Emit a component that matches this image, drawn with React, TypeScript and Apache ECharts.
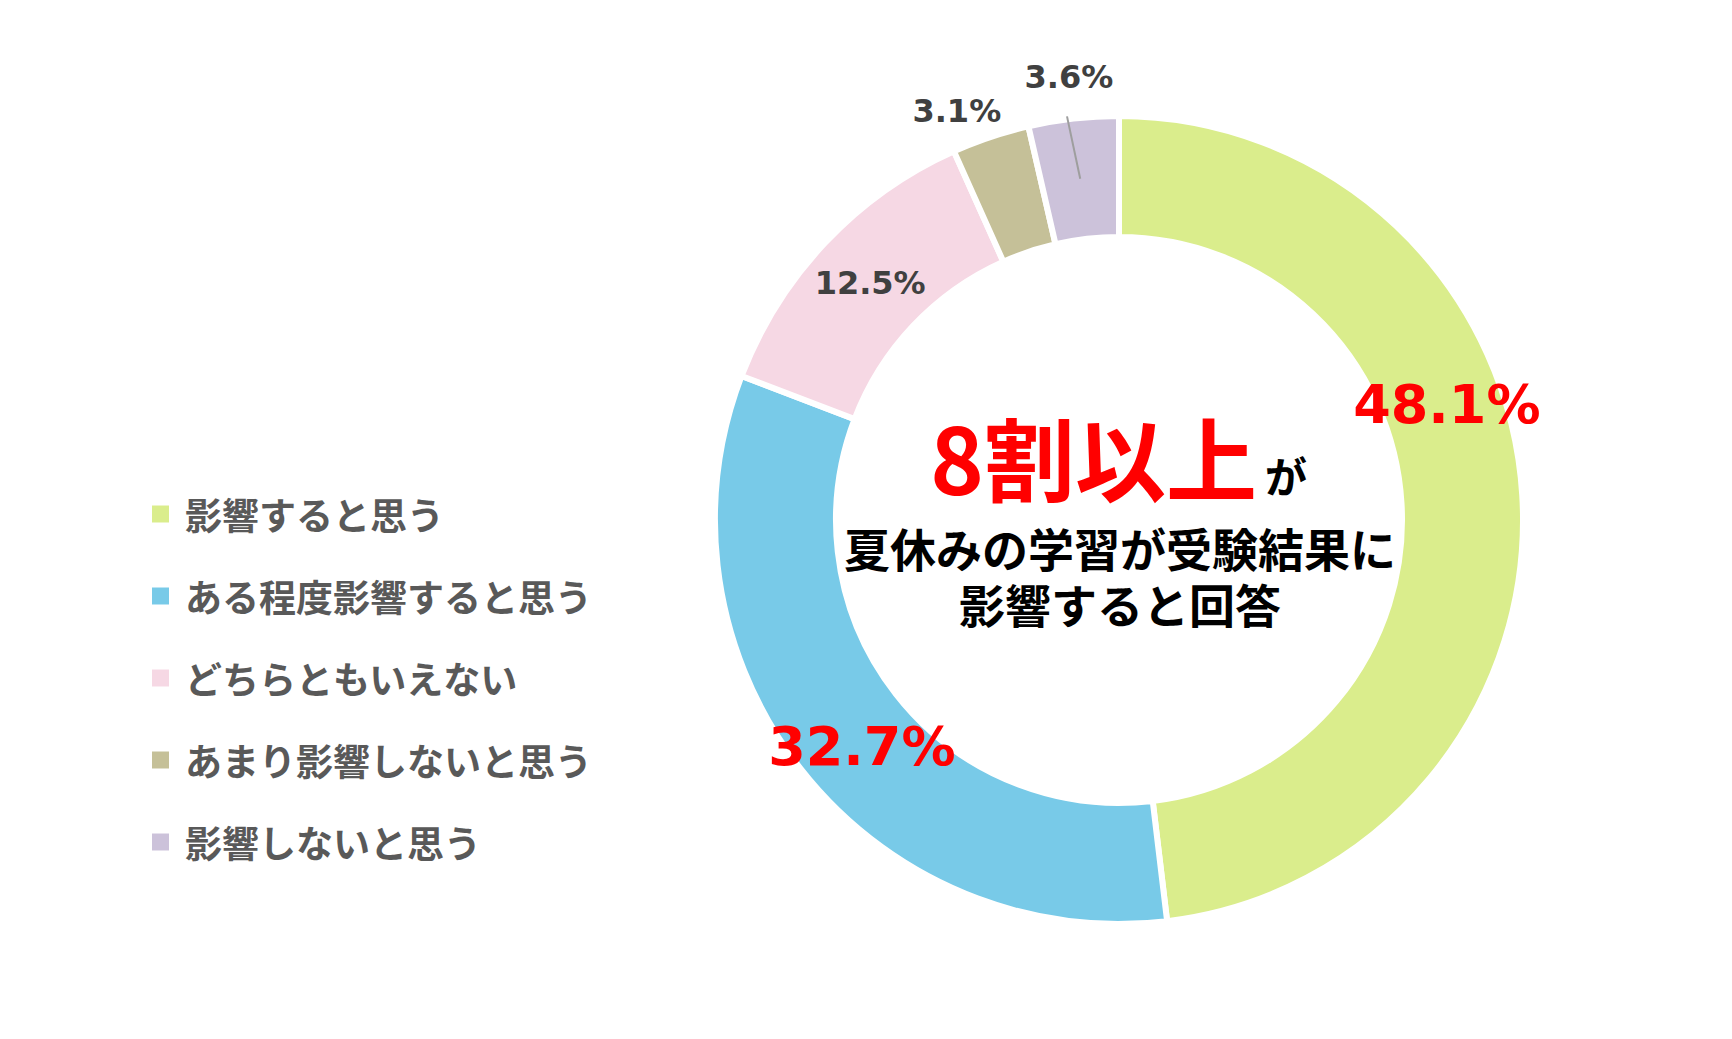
import React, { useEffect, useRef } from 'react';
import * as echarts from 'echarts';

// 回答カテゴリ
const categories = [
    '影響すると思う',
    'ある程度影響すると思う',
    'どちらともいえない',
    'あまり影響しないと思う',
    '影響しないと思う',
];
// 割合 (%)
const values = [48.1, 32.7, 12.5, 3.1, 3.6];
const colors = ['#DAED8C', '#78CAE8', '#F6D8E4', '#C5C098', '#CCC2DA'];
// ラベルの色・大きさ（大きい2つは赤で強調）
const labelColors = ['#FF0000', '#FF0000', '#404040', '#404040', '#404040'];
const labelSizes = [54, 54, 32, 32, 32];
// ラベルのずらし量
const labelShift = [[-18, -95], [16, 13], [3, 1], [-52, -80], [-11, -99]];

const CX = 1119;
const CY = 520;
const R_IN = 283;
const R_OUT = 404;

const App = () => {
    const chartRef = useRef<HTMLDivElement>(null);

    useEffect(() => {
        if (!chartRef.current) return;
        const myChart = echarts.init(chartRef.current, null, { renderer: 'svg' });

        // 最後の項目（影響しないと思う）の中央角度から引き出し線を計算
        const total = values.reduce((a, b) => a + b, 0);
        const before = values.slice(0, 4).reduce((a, b) => a + b, 0);
        const mid = ((before + values[4] / 2) / total) * Math.PI * 2;
        const rMid = (R_IN + R_OUT) / 2;
        const lineStart = [CX + rMid * Math.sin(mid), CY - rMid * Math.cos(mid)];
        const lineEnd = [CX + 407 * Math.sin(mid - 0.015), CY - 407 * Math.cos(mid - 0.015)];

        const cjk = '"Noto Sans CJK JP", "Noto Sans", sans-serif';
        const num = '"DejaVu Sans", Verdana, sans-serif';

        const option = {
            animation: false,
            backgroundColor: '#ffffff',
            color: colors,
            legend: {
                orient: 'vertical',
                left: 145,
                top: 488,
                icon: 'rect',
                itemWidth: 19,
                itemHeight: 19,
                itemGap: 40,
                selectedMode: false,
                data: categories,
                textStyle: {
                    color: '#595959',
                    fontSize: 37,
                    fontWeight: 'bold',
                    fontFamily: cjk,
                    lineHeight: 42,
                    padding: [0, 0, 0, 10],
                },
            },
            series: [
                {
                    type: 'pie',
                    center: [CX, CY],
                    radius: [R_IN, R_OUT],
                    startAngle: 90,
                    clockwise: true,
                    silent: true,
                    itemStyle: {
                        borderColor: '#ffffff',
                        borderWidth: 6,
                    },
                    labelLine: { show: false },
                    labelLayout: function (params: any) {
                        const s = labelShift[params.dataIndex];
                        return { dx: s[0], dy: s[1] };
                    },
                    data: categories.map((name, i) => ({
                        name: name,
                        value: values[i],
                        label: {
                            show: true,
                            position: 'inside',
                            formatter: values[i].toFixed(1) + '%',
                            color: labelColors[i],
                            fontSize: labelSizes[i],
                            fontWeight: 'bold',
                            fontFamily: num,
                        },
                    })),
                },
            ],
            graphic: [
                {
                    type: 'line',
                    z: 10,
                    shape: { x1: lineStart[0], y1: lineStart[1], x2: lineEnd[0], y2: lineEnd[1] },
                    style: { stroke: '#9E9E9E', lineWidth: 2 },
                },
                {
                    type: 'text',
                    x: 1257,
                    y: 455,
                    style: {
                        text: '8割以上',
                        fill: '#FF0000',
                        font: 'bold 91px ' + cjk,
                        textAlign: 'right',
                        textVerticalAlign: 'middle',
                    },
                },
                {
                    type: 'text',
                    x: 1265,
                    y: 474,
                    style: {
                        text: 'が',
                        fill: '#000000',
                        font: 'bold 42px ' + cjk,
                        textAlign: 'left',
                        textVerticalAlign: 'middle',
                    },
                },
                {
                    type: 'text',
                    x: 1120,
                    y: 547,
                    style: {
                        text: '夏休みの学習が受験結果に',
                        fill: '#000000',
                        font: 'bold 46px ' + cjk,
                        textAlign: 'center',
                        textVerticalAlign: 'middle',
                    },
                },
                {
                    type: 'text',
                    x: 1120,
                    y: 603,
                    style: {
                        text: '影響すると回答',
                        fill: '#000000',
                        font: 'bold 46px ' + cjk,
                        textAlign: 'center',
                        textVerticalAlign: 'middle',
                    },
                },
            ],
        };

        myChart.setOption(option as any);

        return () => {
            myChart.dispose();
        };
    }, []);

    return (
        <div
            ref={chartRef}
            style={{ position: 'fixed', left: 0, top: 0, width: 1732, height: 1039 }}
        ></div>
    );
};

export default App;
